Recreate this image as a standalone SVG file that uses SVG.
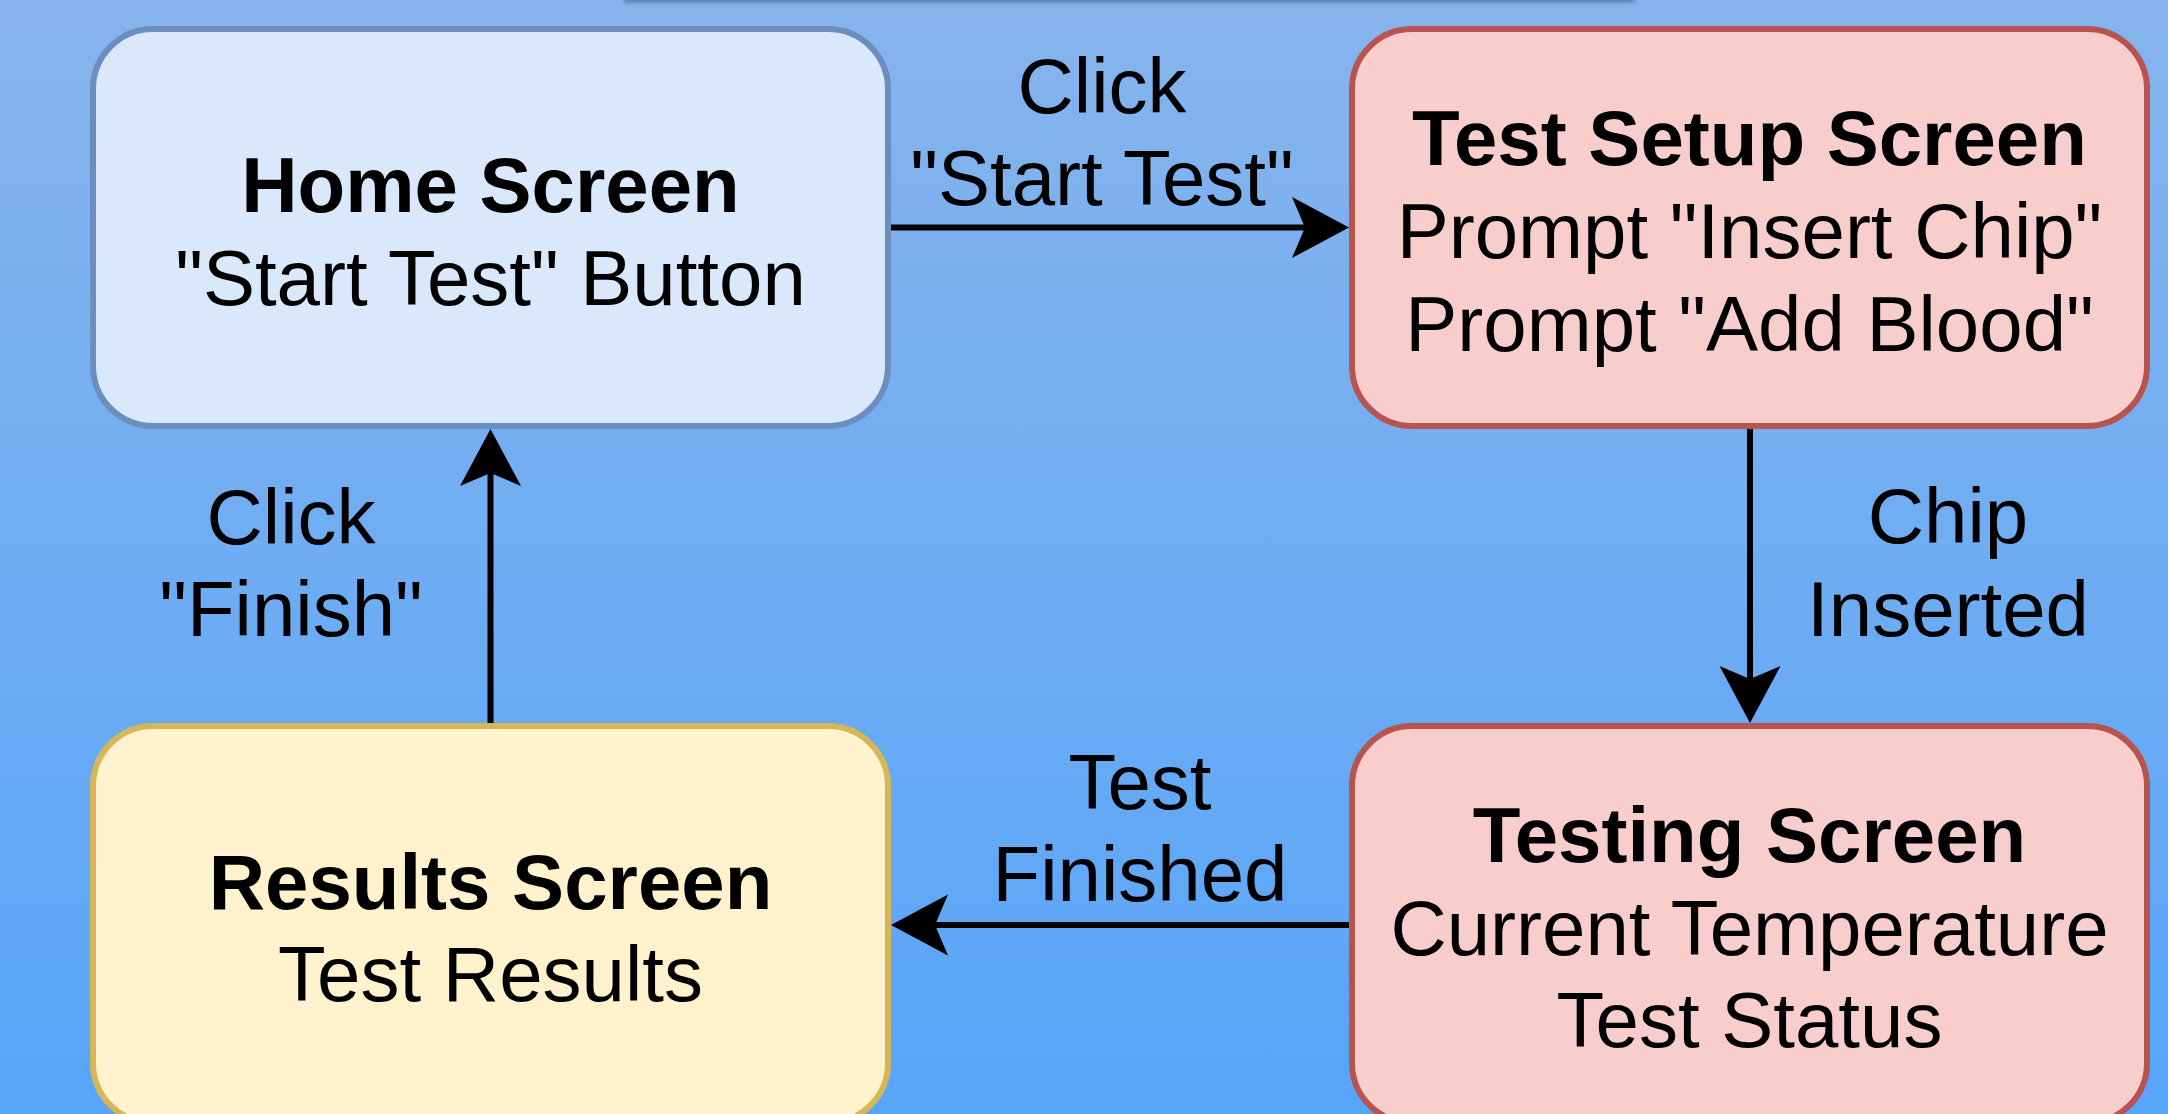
<svg xmlns="http://www.w3.org/2000/svg" width="2168" height="1114" viewBox="0 0 2168 1114">
  <defs>
    <linearGradient id="bg" x1="0" y1="0" x2="0" y2="1">
      <stop offset="0" stop-color="#87b4ec"/>
      <stop offset="1" stop-color="#57a5f9"/>
    </linearGradient>
    <filter id="blur" x="-5%" y="-200%" width="110%" height="500%">
      <feGaussianBlur stdDeviation="2.5"/>
    </filter>
    <marker id="arrow" markerUnits="userSpaceOnUse" markerWidth="60" markerHeight="62" refX="13" refY="30.5" orient="auto" overflow="visible">
      <path d="M57,30.5 L0,0 L13,30.5 L0,61 Z" fill="#000"/>
    </marker>
    <style>
      .box { stroke-width: 6; }
      .home { fill: #dae8fc; stroke: #6c8ebf; }
      .red { fill: #f8cecc; stroke: #b85450; }
      .yellow { fill: #fff2cc; stroke: #d6b656; }
      text { font-family: "Liberation Sans", Arial, Helvetica, sans-serif; font-size: 78px; fill: #000; text-anchor: middle; }
      .title { font-weight: bold; }
      .edge { stroke: #000; stroke-width: 6; fill: none; marker-end: url(#arrow); }
    </style>
  </defs>
  <rect x="0" y="0" width="2168" height="1114" fill="url(#bg)"/>
  <rect x="624" y="-10" width="1011" height="12" fill="#3f5f8f" opacity="0.75" filter="url(#blur)"/>
  <rect x="624" y="-40" width="1011" height="40" fill="#d9d9d9"/>

  <g id="edges">
    <line class="edge" x1="891" y1="227.5" x2="1305" y2="227.5"/>
    <line class="edge" x1="1750" y1="429" x2="1750" y2="679"/>
    <line class="edge" x1="1349" y1="925" x2="935" y2="925"/>
    <line class="edge" x1="490.5" y1="723" x2="490.5" y2="473"/>
    <text x="1102" y="113">Click</text>
    <text x="1102" y="205">"Start Test"</text>
    <text x="1948" y="543">Chip</text>
    <text x="1948" y="636">Inserted</text>
    <text x="1140" y="809">Test</text>
    <text x="1140" y="901">Finished</text>
    <text x="291" y="544">Click</text>
    <text x="291" y="636">"Finish"</text>
  </g>

  <g id="home-screen">
    <rect class="box home" x="93" y="29" width="795" height="397" rx="60" ry="60"/>
    <text class="title" x="490.5" y="212">Home Screen</text>
    <text x="490.5" y="305">"Start Test" Button</text>
  </g>

  <g id="test-setup-screen">
    <rect class="box red" x="1352" y="29" width="795" height="397" rx="60" ry="60"/>
    <text class="title" x="1749.5" y="165">Test Setup Screen</text>
    <text x="1749.5" y="258">Prompt "Insert Chip"</text>
    <text x="1749.5" y="351">Prompt "Add Blood"</text>
  </g>

  <g id="results-screen">
    <rect class="box yellow" x="93" y="726" width="795" height="397" rx="60" ry="60"/>
    <text class="title" x="490.5" y="909">Results Screen</text>
    <text x="490.5" y="1001">Test Results</text>
  </g>

  <g id="testing-screen">
    <rect class="box red" x="1352" y="726" width="795" height="397" rx="60" ry="60"/>
    <text class="title" x="1749.5" y="862">Testing Screen</text>
    <text x="1749.5" y="955">Current Temperature</text>
    <text x="1749.5" y="1047">Test Status</text>
  </g>
</svg>
